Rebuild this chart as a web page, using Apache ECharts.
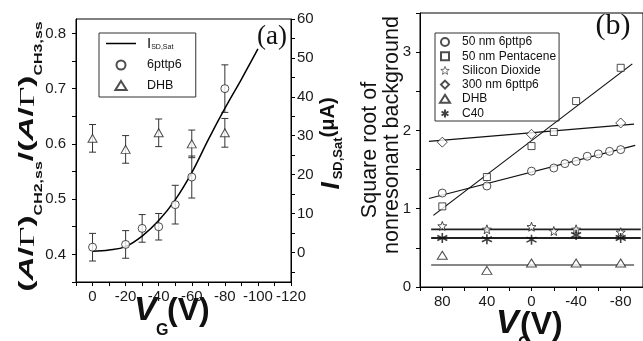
<!DOCTYPE html>
<html>
<head>
<meta charset="utf-8">
<script src="https://cdn.jsdelivr.net/npm/echarts@6/dist/echarts.min.js"></script>
<style>
  html, body { margin: 0; padding: 0; background: #fff; }
  #chart { width: 643px; height: 341px; }
</style>
</head>
<body>
<div id="chart"></div>
<script>
// ---- panel (a) ----
const vgA = [0, -20, -30, -40, -50, -60, -80];
const ratio6pttp6 = [0.413, 0.418, 0.447, 0.450, 0.490, 0.540, 0.700];
const err6pttp6 = [0.025, 0.025, 0.025, 0.024, 0.035, 0.038, 0.043];
const vgDHB = [0, -20, -40, -60, -80];
const ratioDHB = [0.610, 0.590, 0.620, 0.600, 0.620];
const errDHB = [0.025, 0.025, 0.025, 0.025, 0.026];
const vgFit = [0, -10, -20, -30, -40, -50, -60, -70, -80, -90, -100];
const isdSat = [0.3, 0.6, 1.5, 4.2, 8.2, 13.5, 20.5, 29, 37, 44.5, 52.3];

const xTicksA = [10, 0, -10, -20, -30, -40, -50, -60, -70, -80, -90, -100, -110, -120];
const xLabelsA = [0, -20, -40, -60, -80, -100, -120];
const yTicksA = [0.35, 0.4, 0.45, 0.5, 0.55, 0.6, 0.65, 0.7, 0.75, 0.8];
const yLabelsA = [0.4, 0.5, 0.6, 0.7, 0.8];
const y2TicksA = [-5, 0, 5, 10, 15, 20, 25, 30, 35, 40, 45, 50, 55, 60];
const y2LabelsA = [0, 10, 20, 30, 40, 50, 60];

// ---- panel (b) ----
const vg50_6p = [80, 40, 0, -20, -30, -40, -50, -60, -70, -80];
const bg50_6p = [1.20, 1.29, 1.48, 1.52, 1.576, 1.605, 1.67, 1.70, 1.733, 1.755];
const vgPent = [80, 40, 0, -20, -40, -80];
const bgPent = [1.03, 1.405, 1.80, 1.98, 2.375, 2.80];
const vgSiO2 = [80, 40, 0, -20, -40, -80];
const bgSiO2 = [0.78, 0.737, 0.77, 0.715, 0.737, 0.70];
const vg300 = [80, 0, -80];
const bg300 = [1.85, 1.95, 2.095];
const vgDHBb = [80, 40, 0, -40, -80];
const bgDHBb = [0.405, 0.213, 0.307, 0.307, 0.307];
const vgC40 = [80, 40, 0, -40, -80];
const bgC40 = [0.626, 0.609, 0.605, 0.665, 0.626];

// straight fits (end points)
const fitX6p = [92, -93], fitY6p = [1.13, 1.81];
const fitXPent = [88, -90.4], fitYPent = [0.915, 2.85];
const fitX300 = [92, -92], fitY300 = [1.86, 2.08];
const fitXSiO2 = [90, -98], fitYSiO2 = [0.737, 0.737];
const fitXC40 = [90, -98], fitYC40 = [0.626, 0.626];
const fitXDHB = [90, -92], fitYDHB = [0.281, 0.281];

const xTicksB = [100, 80, 60, 40, 20, 0, -20, -40, -60, -80, -100];
const xLabelsB = [80, 40, 0, -40, -80];
const yTicksB = [0, 0.5, 1, 1.5, 2, 2.5, 3, 3.5];
const yLabelsB = [0, 1, 2, 3];

const FONT = 'Liberation Sans';
const SERIF = 'Liberation Serif';
const STAR = 'path://M0,-5L1.23,-1.7L4.76,-1.55L2,0.65L2.94,4.05L0,2.1L-2.94,4.05L-2,0.65L-4.76,-1.55L-1.23,-1.7Z';
const ASTER = 'path://M0,-5L0,5M-4.33,-2.5L4.33,2.5M-4.33,2.5L4.33,-2.5';
const TRI = 'path://M5,0L10,8L0,8Z';
const DIAM = 'path://M5,0L10,5L5,10L0,5Z';
const SQR = 'path://M0,0L7,0L7,7L0,7Z';
const LINE_ICON = 'path://M0,0L30,0L30,1.5L0,1.5Z';

const pairs = (xs, ys) => xs.map((x, i) => [x, ys[i]]);
const bars = (xs, ys, es) => xs.map((x, i) => [x, ys[i] - es[i], ys[i] + es[i]]);

function renderErr(params, api) {
    const x = api.value(0);
    const hi = api.coord([x, api.value(2)]);
    const lo = api.coord([x, api.value(1)]);
    const c = 3.5;
    const st = { stroke: '#333', lineWidth: 1 };
    return {
        type: 'group',
        children: [
            { type: 'line', shape: { x1: hi[0], y1: hi[1], x2: lo[0], y2: lo[1] }, style: st },
            { type: 'line', shape: { x1: hi[0] - c, y1: hi[1], x2: hi[0] + c, y2: hi[1] }, style: st },
            { type: 'line', shape: { x1: lo[0] - c, y1: lo[1], x2: lo[0] + c, y2: lo[1] }, style: st }
        ]
    };
}

const hollow = { color: '#fff', borderColor: '#222', borderWidth: 1 };

const axisBase = (ticks, labels, fmt, margin) => ({
    type: 'value',
    axisLine: { show: true, onZero: false, lineStyle: { color: '#000', width: 1 } },
    axisTick: { show: true, inside: false, length: 4, customValues: ticks, lineStyle: { color: '#000' } },
    axisLabel: {
        customValues: labels, margin: margin, showMinLabel: true, showMaxLabel: true,
        fontFamily: FONT, fontSize: 15, color: '#1a1a1a', formatter: fmt
    },
    splitLine: { show: false }
});

const fitLine = (name, xs, ys, w, c) => ({
    name: name, type: 'line', xAxisIndex: 1, yAxisIndex: 2, data: pairs(xs, ys),
    symbol: 'none', z: 2, lineStyle: { color: c, width: w }
});

const option = {
    animation: false,
    backgroundColor: '#fff',
    grid: [
        { left: 76, top: 19, width: 215, height: 263, show: true, borderColor: '#000', borderWidth: 1 },
        { left: 420, top: 13, width: 225, height: 274, show: true, borderColor: '#000', borderWidth: 1 }
    ],
    xAxis: [
        Object.assign(axisBase(xTicksA, xLabelsA, v => String(v), 7), { gridIndex: 0, min: -120, max: 10, inverse: true }),
        Object.assign(axisBase(xTicksB, xLabelsB, v => String(v), 7), { gridIndex: 1, min: -100, max: 100, inverse: true })
    ],
    yAxis: [
        Object.assign(axisBase(yTicksA, yLabelsA, v => v.toFixed(1), 10), { gridIndex: 0, position: 'left', min: 0.35, max: 0.826 }),
        Object.assign(axisBase(y2TicksA, y2LabelsA, v => String(v), 6), { gridIndex: 0, position: 'right', min: -7.6, max: 60 }),
        Object.assign(axisBase(yTicksB, yLabelsB, v => String(v), 9), { gridIndex: 1, position: 'left', min: 0, max: 3.5 })
    ],
    legend: [
        {
            left: 99, top: 33, orient: 'vertical',
            data: [
                { name: 'ISD', icon: LINE_ICON },
                { name: '6pttp6', icon: 'circle' },
                { name: 'DHB', icon: TRI }
            ],
            itemWidth: 30, itemHeight: 9, itemGap: 7.5, symbolKeepAspect: true,
            padding: [3, 14, 5, 7],
            borderColor: '#333', borderWidth: 1,
            selectedMode: false,
            formatter: n => n === 'ISD' ? '{m|I}{s|SD,Sat}' : n,
            textStyle: {
                fontFamily: FONT, fontSize: 12.5, color: '#111', padding: [0, 0, 0, 6],
                rich: {
                    m: { fontFamily: FONT, fontSize: 15, color: '#111', lineHeight: 15 },
                    s: { fontFamily: FONT, fontSize: 7, color: '#111', lineHeight: 4, verticalAlign: 'bottom' }
                }
            }
        },
        {
            left: 435, top: 33, orient: 'vertical',
            data: [
                { name: '50 nm 6pttp6', icon: 'circle' },
                { name: '50 nm Pentacene', icon: SQR },
                { name: 'Silicon Dioxide', icon: STAR, itemStyle: { color: '#fff', borderColor: '#222', borderWidth: 0.8 } },
                { name: '300 nm 6pttp6', icon: DIAM },
                { name: 'DHB', icon: TRI },
                { name: 'C40', icon: ASTER }
            ],
            itemWidth: 12, itemHeight: 8, itemGap: 2.2, symbolKeepAspect: true,
            padding: [3, 3, 1, 4],
            borderColor: '#333', borderWidth: 1,
            selectedMode: false,
            textStyle: { fontFamily: FONT, fontSize: 12, color: '#111', padding: [0, 0, 0, 6] }
        }
    ],
    series: [
        // (a)
        { name: 'err6', type: 'custom', xAxisIndex: 0, yAxisIndex: 0, renderItem: renderErr,
          encode: { x: 0, y: [1, 2] }, data: bars(vgA, ratio6pttp6, err6pttp6), z: 1 },
        { name: 'errDHB', type: 'custom', xAxisIndex: 0, yAxisIndex: 0, renderItem: renderErr,
          encode: { x: 0, y: [1, 2] }, data: bars(vgDHB, ratioDHB, errDHB), z: 1 },
        { name: 'ISD', type: 'line', xAxisIndex: 0, yAxisIndex: 1, data: pairs(vgFit, isdSat),
          smooth: 0.4, symbol: 'none', z: 2, lineStyle: { color: '#000', width: 1.5 }, itemStyle: { color: '#000' } },
        { name: '6pttp6', type: 'scatter', xAxisIndex: 0, yAxisIndex: 0, data: pairs(vgA, ratio6pttp6),
          symbol: 'circle', symbolSize: 8, z: 3, itemStyle: hollow },
        { name: 'DHB', type: 'scatter', xAxisIndex: 0, yAxisIndex: 0, data: pairs(vgDHB, ratioDHB),
          symbol: 'triangle', symbolSize: [9, 8], z: 3, itemStyle: hollow },
        // (b) fits
        fitLine('fit6p', fitX6p, fitY6p, 1.2, '#111'),
        fitLine('fitPent', fitXPent, fitYPent, 1.2, '#111'),
        fitLine('fit300', fitX300, fitY300, 1.2, '#111'),
        fitLine('fitSiO2', fitXSiO2, fitYSiO2, 1.8, '#222'),
        fitLine('fitC40', fitXC40, fitYC40, 1.8, '#222'),
        fitLine('fitDHB', fitXDHB, fitYDHB, 1.2, '#111'),
        // (b) points
        { name: '50 nm 6pttp6', type: 'scatter', xAxisIndex: 1, yAxisIndex: 2, data: pairs(vg50_6p, bg50_6p),
          symbol: 'circle', symbolSize: 8, z: 3, itemStyle: hollow },
        { name: '50 nm Pentacene', type: 'scatter', xAxisIndex: 1, yAxisIndex: 2, data: pairs(vgPent, bgPent),
          symbol: 'rect', symbolSize: 7, z: 3, itemStyle: hollow },
        { name: 'Silicon Dioxide', type: 'scatter', xAxisIndex: 1, yAxisIndex: 2, data: pairs(vgSiO2, bgSiO2),
          symbol: STAR, symbolSize: 9, z: 3, itemStyle: hollow },
        { name: '300 nm 6pttp6', type: 'scatter', xAxisIndex: 1, yAxisIndex: 2, data: pairs(vg300, bg300),
          symbol: 'diamond', symbolSize: 10, z: 3, itemStyle: hollow },
        { name: 'DHB', type: 'scatter', xAxisIndex: 1, yAxisIndex: 2, data: pairs(vgDHBb, bgDHBb),
          symbol: 'triangle', symbolSize: [10, 8], z: 3, itemStyle: hollow },
        { name: 'C40', type: 'scatter', xAxisIndex: 1, yAxisIndex: 2, data: pairs(vgC40, bgC40),
          symbol: ASTER, symbolSize: 10, z: 3, itemStyle: { color: 'none', borderColor: '#111', borderWidth: 1.6 } }
    ],
    graphic: [
        // (a) left axis title
        {
            type: 'group', x: 39, y: 156.5, rotation: Math.PI / 2, scaleX: 1.6,
            children: [{
                type: 'text',
                style: {
                    text: '{p|(}{a|A}{p|/}{g|Γ}{p|)}{s|CH2,ss}{p|/(}{a|A}{p|/}{g|Γ}{p|)}{s|CH3,ss}',
                    align: 'center', verticalAlign: 'middle', fill: '#111',
                    rich: {
                        p: { fontFamily: FONT, fontSize: 21, fontWeight: 'bold', fill: '#111', lineHeight: 22, verticalAlign: 'top' },
                        a: { fontFamily: FONT, fontSize: 21, fontWeight: 'bold', fontStyle: 'italic', fill: '#111', lineHeight: 22, verticalAlign: 'top' },
                        g: { fontFamily: SERIF, fontSize: 22, fill: '#111', lineHeight: 22, verticalAlign: 'top' },
                        s: { fontFamily: FONT, fontSize: 10, fontWeight: 'bold', fill: '#111', lineHeight: 44, verticalAlign: 'middle' }
                    }
                }
            }]
        },
        // (a) right axis title
        {
            type: 'group', x: 338.5, y: 146.5, rotation: Math.PI / 2,
            children: [{
                type: 'text',
                style: {
                    text: '{i|I}{s|SD,Sat}{u|(μA)}',
                    align: 'center', verticalAlign: 'middle', fill: '#111',
                    rich: {
                        i: { fontFamily: FONT, fontSize: 26, fontWeight: 'bold', fontStyle: 'italic', fill: '#111', lineHeight: 27, verticalAlign: 'top', padding: [0, 3, 0, 6] },
                        s: { fontFamily: FONT, fontSize: 13, fontWeight: 'bold', fill: '#111', lineHeight: 40, verticalAlign: 'middle' },
                        u: { fontFamily: FONT, fontSize: 20, fontWeight: 'bold', fill: '#111', lineHeight: 21, verticalAlign: 'top' }
                    }
                }
            }]
        },
        // (a) x title
        { type: 'text', x: 134, y: 310.5, style: { text: 'V', fontFamily: FONT, fontSize: 34, fontWeight: 'bold', fontStyle: 'italic', fill: '#111', align: 'left', verticalAlign: 'middle' } },
        { type: 'text', x: 156, y: 331, style: { text: 'G', fontFamily: FONT, fontSize: 16, fontWeight: 'bold', fill: '#111', align: 'left', verticalAlign: 'middle' } },
        { type: 'text', x: 167, y: 311, style: { text: '(V)', fontFamily: FONT, fontSize: 32, fontWeight: 'bold', fill: '#111', align: 'left', verticalAlign: 'middle' } },
        // (b) x title
        { type: 'text', x: 496, y: 324, style: { text: 'V', fontFamily: FONT, fontSize: 34, fontWeight: 'bold', fontStyle: 'italic', fill: '#111', align: 'left', verticalAlign: 'middle' } },
        { type: 'text', x: 518, y: 344, style: { text: 'G', fontFamily: FONT, fontSize: 16, fontWeight: 'bold', fill: '#111', align: 'left', verticalAlign: 'middle' } },
        { type: 'text', x: 520, y: 325, style: { text: '(V)', fontFamily: FONT, fontSize: 32, fontWeight: 'bold', fill: '#111', align: 'left', verticalAlign: 'middle' } },
        // (b) y title
        { type: 'text', x: 370, y: 150, rotation: Math.PI / 2, style: { text: 'Square root of', fontFamily: FONT, fontSize: 21.5, fill: '#111', align: 'center', verticalAlign: 'middle' } },
        { type: 'text', x: 392, y: 135, rotation: Math.PI / 2, style: { text: 'nonresonant background', fontFamily: FONT, fontSize: 21.5, fill: '#111', align: 'center', verticalAlign: 'middle' } },
        // panel tags
        { type: 'text', x: 272, y: 37, style: { text: '(a)', fontFamily: SERIF, fontSize: 27, fill: '#111', align: 'center', verticalAlign: 'middle' } },
        { type: 'text', x: 613, y: 26, style: { text: '(b)', fontFamily: SERIF, fontSize: 30, fill: '#111', align: 'center', verticalAlign: 'middle' } }
    ]
};

const chart = echarts.init(document.getElementById('chart'), null, { renderer: 'canvas' });
chart.setOption(option);
</script>
</body>
</html>
